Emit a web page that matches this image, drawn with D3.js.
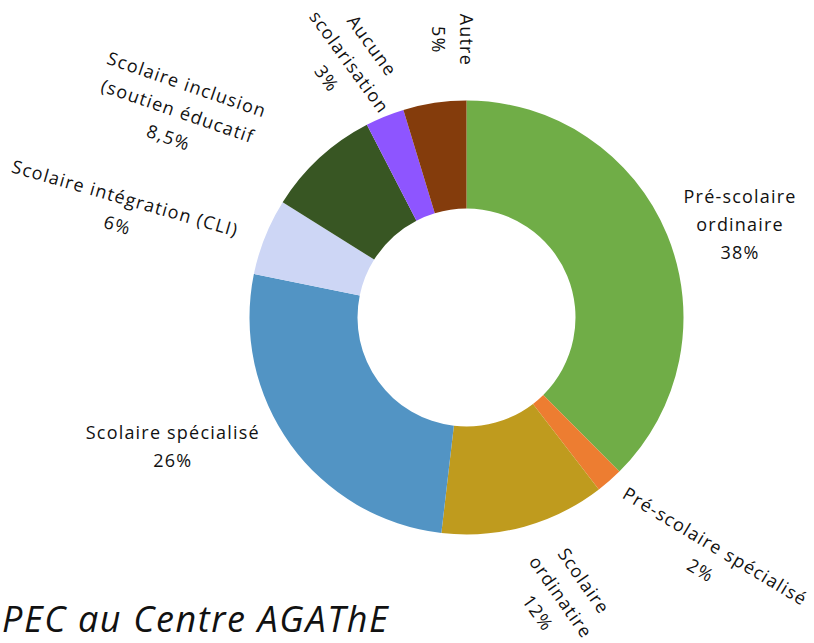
<!DOCTYPE html>
<html>
<head>
<meta charset="utf-8">
<script src="https://cdn.jsdelivr.net/npm/d3@7"></script>
<style>
  body { margin: 0; background: #fff; }
  #chart text { font-family: "Open Sans", sans-serif; fill: #111; }
</style>
</head>
<body>
<div id="chart"></div>
<script>
// slice values (labels show rounded figures)
const categories = ["Pré-scolaire ordinaire", "Pré-scolaire spécialisé", "Scolaire ordinatire",
  "Scolaire spécialisé", "Scolaire intégration (CLI)", "Scolaire inclusion (soutien éducatif",
  "Aucune scolarisation", "Autre"];
const values = [37.6, 2, 12.3, 26.4, 5.7, 8.5, 2.9, 4.7];
const labelLines = [
  ["Pré-scolaire", "ordinaire", "38%"],
  ["Pré-scolaire spécialisé", "2%"],
  ["Scolaire", "ordinatire", "12%"],
  ["Scolaire spécialisé", "26%"],
  ["Scolaire intégration (CLI)", "6%"],
  ["Scolaire inclusion", "(soutien éducatif", "8,5%"],
  ["Aucune", "scolarisation", "3%"],
  ["Autre", "5%"]
];
const colors = ["#70AD47", "#ED7D31", "#BF9B1E", "#5294C4", "#CDD6F5", "#385623", "#8E55FF", "#843C0C"];

// label placement: angle shift from slice middle (deg), distance, text rotation (deg)
const labelShift = [3.6, -3.9, -3.2, 12.1, -4.8, -11.8, -2.5, 5.6];
const labelDist = [289, 341, 295, 321, 361, 355, 281, 278];
const labelRot = [0, 31, 55, 0, 16, 19, 54, 90];

const width = 814, height = 643;
const cx = 466.5, cy = 317.5;
const outerR = 217, innerR = 109;
const lineH = 28;

const svg = d3.select("#chart")
  .append("svg")
    .attr("width", width)
    .attr("height", height);

const g = svg.append("g")
  .attr("transform", `translate(${cx}, ${cy})`);

const pie = d3.pie().sort(null).value(d => d);
const arcs = pie(values);

const arc = d3.arc()
  .innerRadius(innerR)
  .outerRadius(outerR);

g.selectAll("path")
  .data(arcs)
  .join("path")
    .attr("d", arc)
    .attr("fill", (d, i) => colors[i]);

// labels
const labels = g.selectAll("text.lbl")
  .data(arcs)
  .join("text")
    .attr("class", "lbl")
    .attr("text-anchor", "middle")
    .style("font-size", "18px")
    .style("letter-spacing", "1.2px")
    .attr("transform", (d, i) => {
      const a = (d.startAngle + d.endAngle) / 2 + labelShift[i] * Math.PI / 180;
      const x = Math.sin(a) * labelDist[i];
      const y = -Math.cos(a) * labelDist[i];
      return `translate(${x}, ${y}) rotate(${labelRot[i]})`;
    });

labels.each(function(d, i) {
  const lines = labelLines[i];
  const t = d3.select(this);
  lines.forEach((l, j) => {
    t.append("tspan")
      .attr("x", 0)
      .attr("y", (j - (lines.length - 1) / 2) * lineH + 6.5)
      .text(l);
  });
});

// title, partly cut at the left edge
svg.append("text")
  .attr("x", 2)
  .attr("y", 632)
  .attr("text-anchor", "start")
  .style("font-size", "36px")
  .style("letter-spacing", "1.6px")
  .style("font-style", "italic")
  .text("PEC au Centre AGAThE");
</script>
</body>
</html>
